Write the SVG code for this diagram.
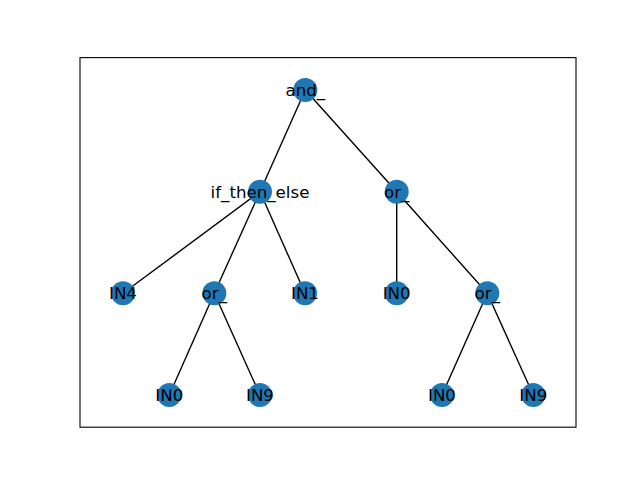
<svg xmlns="http://www.w3.org/2000/svg" width="640" height="480" viewBox="0 0 640 480">
  <style>
    .edge { stroke: #000; stroke-width: 1.39; fill: none; }
    .node circle { fill: #1f77b4; }
    .node text { font-family: "DejaVu Sans", sans-serif; font-size: 16.67px; fill: #000; text-anchor: middle; }
  </style>
  <rect x="0" y="0" width="640" height="480" fill="#fff"/>
  <rect x="80" y="57.6" width="496" height="369.6" fill="none" stroke="#000" stroke-width="1.1"/>
  <g id="edges">
    <line class="edge" x1="305.3" y1="90" x2="260" y2="191.7"/>
    <line class="edge" x1="305.3" y1="90" x2="396.7" y2="191.7"/>
    <line class="edge" x1="260" y1="191.7" x2="123" y2="293.3"/>
    <line class="edge" x1="260" y1="191.7" x2="214.3" y2="293.3"/>
    <line class="edge" x1="260" y1="191.7" x2="305" y2="293.3"/>
    <line class="edge" x1="214.3" y1="293.3" x2="169.3" y2="395"/>
    <line class="edge" x1="214.3" y1="293.3" x2="260" y2="395"/>
    <line class="edge" x1="396.7" y1="191.7" x2="396.7" y2="293.3"/>
    <line class="edge" x1="396.7" y1="191.7" x2="487.3" y2="293.3"/>
    <line class="edge" x1="487.3" y1="293.3" x2="442" y2="395"/>
    <line class="edge" x1="487.3" y1="293.3" x2="533.3" y2="395"/>
  </g>
  <g id="n_and" class="node"><circle cx="305.3" cy="90" r="12"/><text x="305.3" y="96">and_</text></g>
  <g id="n_ite" class="node"><circle cx="260" cy="191.7" r="12"/><text x="260" y="197.7">if_then_else</text></g>
  <g id="n_or1" class="node"><circle cx="396.7" cy="191.7" r="12"/><text x="396.7" y="197.7">or_</text></g>
  <g id="n_in4" class="node"><circle cx="123" cy="293.3" r="12"/><text x="123" y="299.3">IN4</text></g>
  <g id="n_or2" class="node"><circle cx="214.3" cy="293.3" r="12"/><text x="214.3" y="299.3">or_</text></g>
  <g id="n_in1" class="node"><circle cx="305" cy="293.3" r="12"/><text x="305" y="299.3">IN1</text></g>
  <g id="n_in0a" class="node"><circle cx="396.7" cy="293.3" r="12"/><text x="396.7" y="299.3">IN0</text></g>
  <g id="n_or3" class="node"><circle cx="487.3" cy="293.3" r="12"/><text x="487.3" y="299.3">or_</text></g>
  <g id="n_in0b" class="node"><circle cx="169.3" cy="395" r="12"/><text x="169.3" y="401">IN0</text></g>
  <g id="n_in9a" class="node"><circle cx="260" cy="395" r="12"/><text x="260" y="401">IN9</text></g>
  <g id="n_in0c" class="node"><circle cx="442" cy="395" r="12"/><text x="442" y="401">IN0</text></g>
  <g id="n_in9b" class="node"><circle cx="533.3" cy="395" r="12"/><text x="533.3" y="401">IN9</text></g>
</svg>
